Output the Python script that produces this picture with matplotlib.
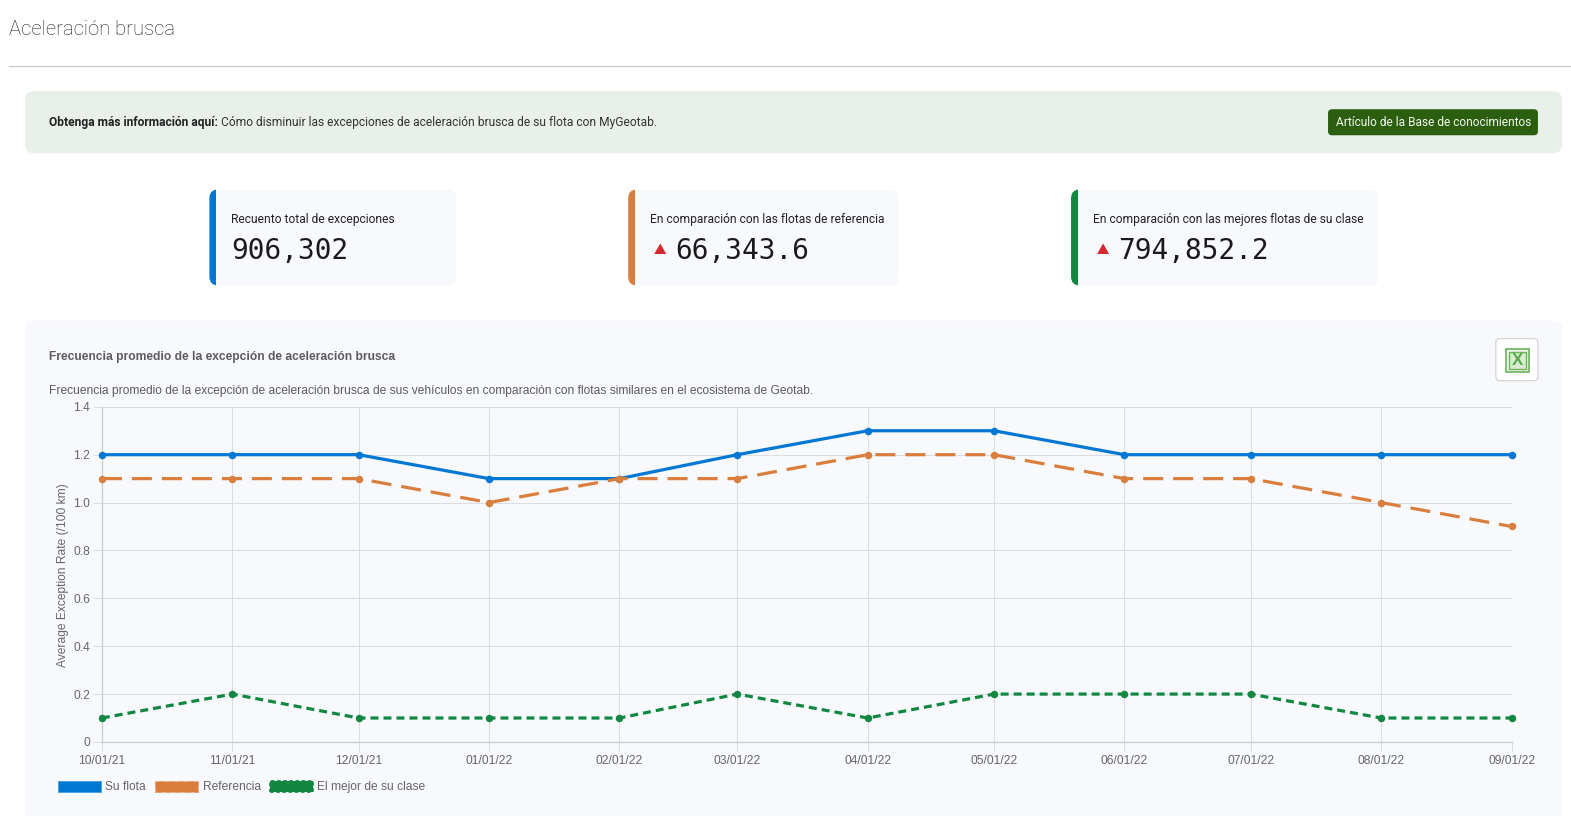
import datetime as dt
import matplotlib
matplotlib.use('Agg')
import matplotlib.pyplot as plt
import matplotlib.dates as mdates
from matplotlib.patches import FancyBboxPatch, Patch, Polygon, Rectangle

# DATA
dates = ['10/01/21', '11/01/21', '12/01/21', '01/01/22', '02/01/22', '03/01/22',
         '04/01/22', '05/01/22', '06/01/22', '07/01/22', '08/01/22', '09/01/22']
su_flota = [1.2, 1.2, 1.2, 1.1, 1.1, 1.2, 1.3, 1.3, 1.2, 1.2, 1.2, 1.2]
referencia = [1.1, 1.1, 1.1, 1.0, 1.1, 1.1, 1.2, 1.2, 1.1, 1.1, 1.0, 0.9]
mejor_clase = [0.1, 0.2, 0.1, 0.1, 0.1, 0.2, 0.1, 0.2, 0.2, 0.2, 0.1, 0.1]
y_ticks = [0, 0.2, 0.4, 0.6, 0.8, 1.0, 1.2, 1.4]
y_labels = ['0', '0.2', '0.4', '0.6', '0.8', '1.0', '1.2', '1.4']
series_names = ['Su flota', 'Referencia', 'El mejor de su clase']
card_labels = ['Recuento total de excepciones',
               'En comparación con las flotas de referencia',
               'En comparación con las mejores flotas de su clase']
card_values = ['906,302', '66,343.6', '794,852.2']

BLUE = '#0078d3'
ORANGE = '#da7e3e'
GREEN = '#128742'
PANEL = '#f7f9fd'
W, H = 1568, 814.4  # layout coordinates used below


def px(n):
    # pixels to points
    return n * 72 / 100


plt.rcParams['font.family'] = ['Roboto', 'DejaVu Sans']
fig = plt.figure(figsize=(15.71, 8.16), dpi=100, facecolor='white')

# page layer in pixel coordinates
page = fig.add_axes([0, 0, 1, 1])
page.set_xlim(0, W)
page.set_ylim(H, 0)
page.axis('off')


def box(x0, y0, x1, y1, color, r=8, **kw):
    p = FancyBboxPatch((x0 + r, y0 + r), x1 - x0 - 2 * r, y1 - y0 - 2 * r,
                       boxstyle='round,pad=%d,rounding_size=%d' % (r, r),
                       facecolor=color, edgecolor=kw.pop('edgecolor', 'none'), **kw)
    page.add_patch(p)
    return p


# header
page.text(9, 29, 'Aceleración brusca', fontsize=px(20.3), fontweight='light',
          color='#222222', va='center')
page.plot([9, W], [66, 66], color='#cccccc', lw=1)

# info banner
box(25, 91, 1559, 153, '#e9f0ea', r=9)
page.text(49, 122.5, 'Obtenga más información aquí:', fontsize=px(12),
          fontweight='bold', color='#222222', va='center')
page.text(221, 122.5, 'Cómo disminuir las excepciones de aceleración brusca de su flota con MyGeotab.',
          fontsize=px(12), color='#333333', va='center')
box(1325.5, 109, 1535, 135, '#2b5f0f', r=4)
page.text(1430.5, 122.5, 'Artículo de la Base de conocimientos', fontsize=px(11.9),
          color='#f4f8ee', va='center', ha='center')

# stat cards
cards = [(209, 455, BLUE), (627, 897, ORANGE), (1069, 1376, GREEN)]
for i, (x0, x1, col) in enumerate(cards):
    box(x0, 189, x1, 285, PANEL, r=9)
    accent = box(x0, 189, x1, 285, col, r=9)
    accent.set_clip_path(Rectangle((x0, 189), 7, 96, transform=page.transData))
    page.text(x0 + 22, 219, card_labels[i], fontsize=px(12), color='#222222', va='center')
    if i == 0:
        vx = x0 + 22
    else:
        vx = x0 + 47
        page.add_patch(Polygon([(x0 + 26, 253.5), (x0 + 38, 253.5), (x0 + 32, 243)],
                               closed=True, facecolor='#d42a2f', edgecolor='none'))
    page.text(vx, 251, card_values[i], fontsize=px(27.7), family='DejaVu Sans Mono',
              color='#1a1a1a', va='center')

# chart panel
box(25, 320, 1559, 830, PANEL, r=9)
page.text(49, 356, 'Frecuencia promedio de la excepción de aceleración brusca',
          fontsize=px(12), family='Liberation Sans', fontweight='bold', color='#5c5c5c', va='center')
page.text(49, 390, 'Frecuencia promedio de la excepción de aceleración brusca de sus vehículos en comparación con flotas similares en el ecosistema de Geotab.',
          fontsize=px(12), family='Liberation Sans', color='#5c5c5c', va='center')

# excel button
box(1493, 338, 1535, 380, 'white', r=4, edgecolor='#cfcfcf', linewidth=0.8)
page.add_patch(Rectangle((1503, 348), 23, 23, facecolor='#eef6ea', edgecolor='#6cb35c', lw=1.2))
page.add_patch(Rectangle((1506, 351), 17, 17, facecolor='#d8ecd0', edgecolor='#6cb35c', lw=1))
page.text(1514.5, 359.5, 'X', fontsize=px(17), fontweight='bold', color='#5aa84a',
          ha='center', va='center', family='Liberation Sans')

# line chart, box 102-1509 x 406-740 px
ax = fig.add_axes([101.7 / W, 1 - 740.5 / H, (1508.7 - 101.7) / W, (740.5 - 406) / H])
ax.patch.set_alpha(0)
x = [dt.datetime.strptime(d, '%m/%d/%y') for d in dates]

ax.plot(x, su_flota, color=BLUE, lw=px(3.2), marker='o', ms=px(7.5), mew=0,
        label=series_names[0], clip_on=False, zorder=3)
ax.plot(x, referencia, color=ORANGE, lw=px(3.2), ls=(0, (20 / 3.2, 10 / 3.2)), marker='o', ms=px(7.5), mew=0,
        label=series_names[1], clip_on=False, zorder=3)
ax.plot(x, mejor_clase, color=GREEN, lw=px(3.2), ls=(0, (8 / 3.2, 5 / 3.2)), marker='o', ms=px(7.5), mew=0,
        label=series_names[2], clip_on=False, zorder=3)

ax.set_xlim(x[0], x[-1])
ax.set_ylim(0, 1.4)
ax.set_xticks(x)
ax.xaxis.set_major_formatter(mdates.DateFormatter('%m/%d/%y'))
ax.set_yticks(y_ticks)
ax.set_yticklabels(y_labels)
ax.grid(True, color='#dcdde3', lw=0.75)
ax.set_axisbelow(True)
ax.tick_params(axis='both', labelsize=px(12), labelcolor='#666666', color='#dcdde3',
               length=px(9), width=0.75, pad=px(3))
ax.tick_params(axis='x', pad=px(4))
for label in ax.get_xticklabels() + ax.get_yticklabels():
    label.set_family('Liberation Sans')
for s in ['top', 'right']:
    ax.spines[s].set_visible(False)
for s in ['left', 'bottom']:
    ax.spines[s].set_color('#c9cad2')
    ax.spines[s].set_linewidth(0.9)
ax.set_ylabel('Average Exception Rate (/100 km)', fontsize=px(12), color='#666666',
              family='Liberation Sans')
ax.yaxis.set_label_coords(-33 / 1407, 0.498)

handles = [Patch(facecolor=BLUE, edgecolor='#4aa3e6', lw=0.7),
           Patch(facecolor=ORANGE, edgecolor='#e9a070', lw=0.7, ls=(0, (20 / 3, 10 / 3))),
           Patch(facecolor=GREEN, edgecolor='#128742', lw=1.2, ls=(0, (2.2, 1.5)))]
fig.legend(handles, series_names, loc='center left', bbox_to_anchor=(57.5 / W, 1 - 785.5 / H),
           ncol=3, frameon=False, borderpad=0, borderaxespad=0,
           handlelength=3.6, handleheight=1.1, handletextpad=0.35, columnspacing=0.78,
           prop={'family': 'Liberation Sans', 'size': px(12)}, labelcolor='#666666')

fig.savefig('out.png', dpi=100)
